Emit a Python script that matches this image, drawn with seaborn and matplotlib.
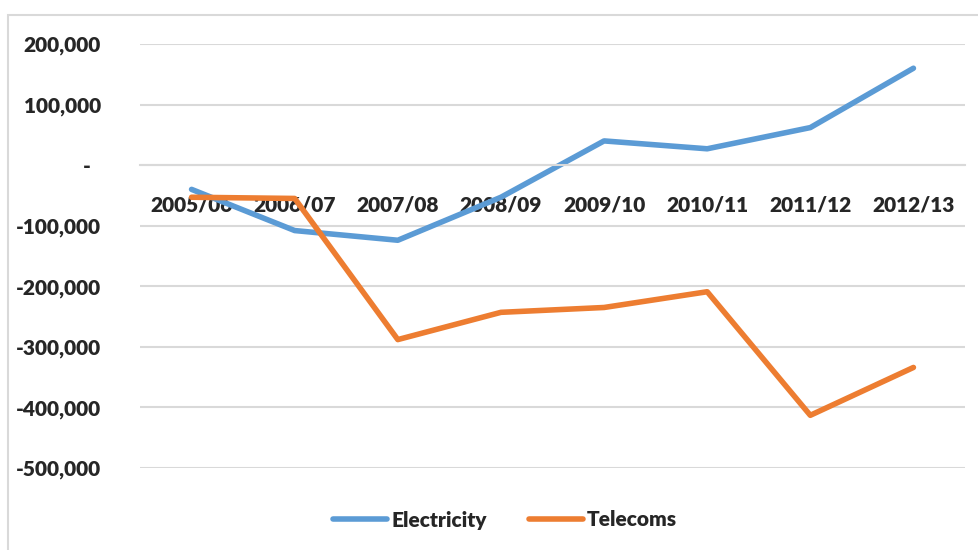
import pandas as pd
import seaborn as sns
import matplotlib.pyplot as plt
import matplotlib.ticker as mticker
from matplotlib.patches import Rectangle

# Data
years = ["2005/06", "2006/07", "2007/08", "2008/09",
         "2009/10", "2010/11", "2011/12", "2012/13"]
electricity = [-40000, -108000, -124000, -53000, 40000, 27000, 62000, 160000]
telecoms = [-53000, -55000, -288000, -243000, -235000, -209000, -413000, -334000]

df = pd.DataFrame({
    "pos": list(range(len(years))) * 2,
    "value": electricity + telecoms,
    "series": ["Electricity"] * len(years) + ["Telecoms"] * len(years),
})

sns.set_style("white")
plt.rcParams['font.family'] = ['Lato', 'DejaVu Sans']
plt.rcParams['font.weight'] = 'heavy'

fig = plt.figure(figsize=(9.79, 5.5), dpi=100)
ax = fig.add_axes([140 / 979, 1 - 468 / 550, 825 / 979, 424 / 550])

# chart area border (Excel style)
fig.patches.append(Rectangle((8 / 979, -0.1), 1.2, 1 - 15 / 550 + 0.1,
                             transform=fig.transFigure, fill=False,
                             edgecolor="#D9D9D9", linewidth=1.5, zorder=0))

sns.lineplot(data=df, x="pos", y="value", hue="series",
             palette={"Electricity": "#5B9BD5", "Telecoms": "#ED7D31"},
             linewidth=4, ax=ax, legend=True)
for line in ax.lines:
    line.set_solid_capstyle("round")
    line.set_solid_joinstyle("round")

ax.set_xlim(-0.5, len(years) - 0.5)
ax.set_ylim(-500000, 200000)
ax.set_yticks(range(-500000, 200001, 100000))


def fmt(v, _):
    if abs(v) < 1:
        return "-  "
    return f"{int(round(v)):,}"


ax.yaxis.set_major_formatter(mticker.FuncFormatter(fmt))
ax.grid(axis="y", color="#D9D9D9", linewidth=1.5)
ax.set_axisbelow(True)

# category axis crossing at zero
for s in ["left", "right", "top"]:
    ax.spines[s].set_visible(False)
ax.spines["bottom"].set_position(("data", 0))
ax.spines["bottom"].set_color("#D9D9D9")
ax.spines["bottom"].set_linewidth(1.5)

ax.set_xticks([i - 0.5 for i in range(len(years) + 1)])
ax.set_xticklabels([])
ax.tick_params(axis="x", which="major", direction="in", length=7,
               color="#D9D9D9", width=1.5)
ax.set_xticks(range(len(years)), minor=True)
ax.set_xticklabels(years, minor=True, fontsize=15, fontweight="heavy")
ax.tick_params(axis="x", which="minor", length=0, pad=22)
ax.tick_params(axis="y", length=0, pad=28, labelsize=15)
for t in ax.get_yticklabels():
    t.set_fontweight("heavy")

ax.set_xlabel("")
ax.set_ylabel("")

handles, labels = ax.get_legend_handles_labels()
ax.legend(handles, labels, loc="center", bbox_to_anchor=(505 / 979, 1 - 520 / 550),
          bbox_transform=fig.transFigure, ncol=2, frameon=False,
          prop={"size": 15, "weight": "heavy"}, handlelength=2.6,
          handletextpad=0.2, columnspacing=2.0)

fig.savefig("out.png", dpi=100)
